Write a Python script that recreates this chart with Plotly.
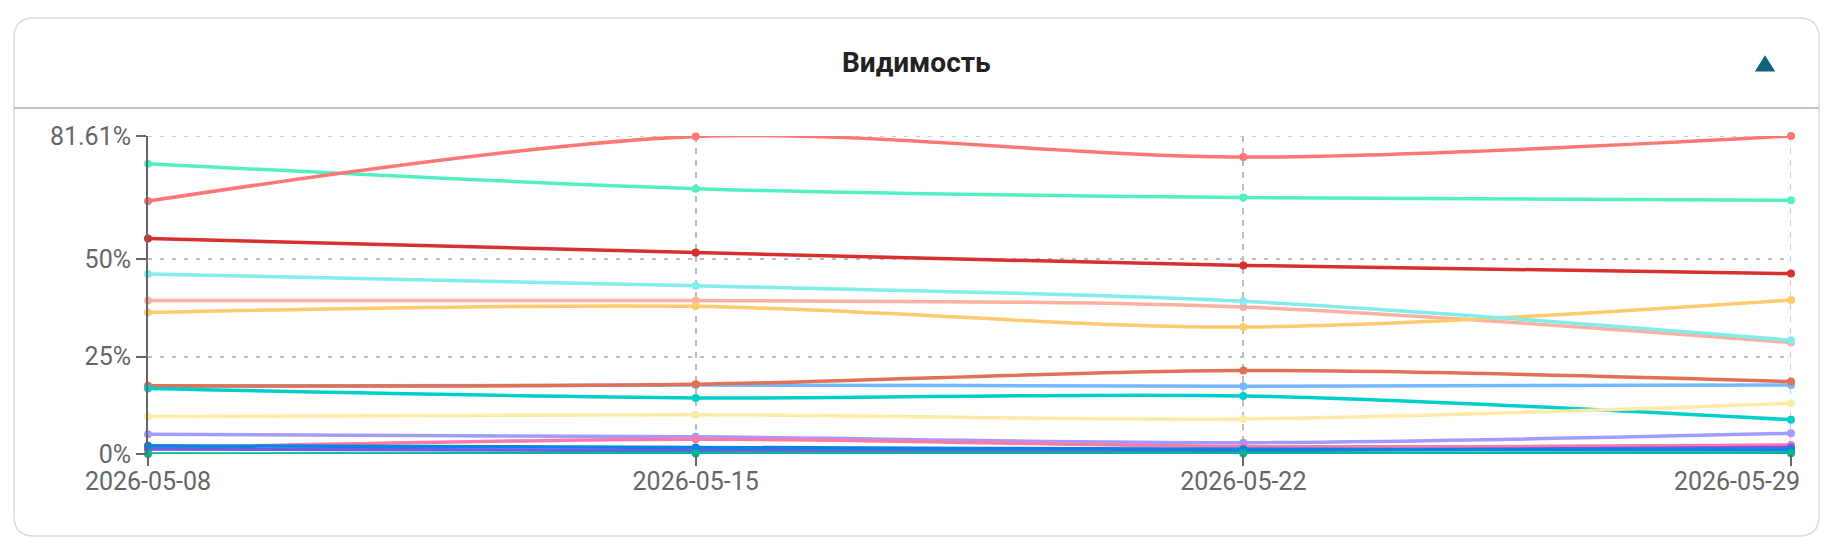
import plotly.graph_objects as go

# ---------------- data ----------------
dates = ["2026-05-08", "2026-05-15", "2026-05-22", "2026-05-29"]
tick_labels = ["2026-05-08", "2026-05-15", "2026-05-22", "2026-05-29"]
y_tickvals = [0, 25, 50, 81.61]
y_ticktext = ["0%", "25%", "50%", "81.61%"]

s_light_blue = [17.4, 17.7, 17.4, 17.7]
s_orange_red = [17.5, 17.9, 21.4, 18.6]
s_teal = [16.8, 14.4, 14.9, 8.8]
s_light_yellow = [9.6, 10.1, 9.0, 13.0]
s_lavender = [5.1, 4.4, 2.9, 5.3]
s_pink = [1.5, 3.8, 1.9, 2.3]
s_purple = [1.3, 0.85, 0.85, 1.7]
s_blue = [2.1, 1.7, 1.2, 1.0]
s_green_dark = [0.0, 0.1, 0.1, 0.2]
s_peach = [39.4, 39.4, 37.7, 28.6]
s_yellow = [36.3, 37.9, 32.6, 39.5]
s_cyan = [46.2, 43.2, 39.2, 29.2]
s_dark_red = [55.3, 51.7, 48.4, 46.3]
s_aqua = [74.5, 68.1, 65.8, 65.1]
s_salmon = [64.9, 81.5, 76.2, 81.61]

series = [
    ("Серия 1", s_light_blue, "#74b9ff"),
    ("Серия 2", s_orange_red, "#e17055"),
    ("Серия 3", s_teal, "#00cec9"),
    ("Серия 4", s_light_yellow, "#ffeaa7"),
    ("Серия 5", s_lavender, "#a29bfe"),
    ("Серия 6", s_pink, "#fd79a8"),
    ("Серия 7", s_purple, "#6c5ce7"),
    ("Серия 8", s_blue, "#0984e3"),
    ("Серия 9", s_peach, "#fab1a0"),
    ("Серия 10", s_yellow, "#fdcb6e"),
    ("Серия 11", s_cyan, "#81ecec"),
    ("Серия 12", s_dark_red, "#d63031"),
    ("Серия 13", s_aqua, "#55efc4"),
    ("Серия 14", s_salmon, "#ff7675"),
    ("Серия 15", s_green_dark, "#00b894"),
]

# ---------------- layout constants (pixels) ----------------
W, H = 1826, 552
L, R, T, B = 148, 35, 136, 98
PW, PH = W - L - R, H - T - B


def xp(px):
    return (px - L) / PW


def yp(py):
    return 1 - (py - T) / PH


FONT = "Roboto, 'Noto Sans', sans-serif"
TICK_COLOR = "#666666"
GRID_COLOR = "#bdbdbd"

fig = go.Figure()
for name, vals, color in series:
    fig.add_trace(go.Scatter(
        x=dates, y=vals, name=name, mode="lines+markers",
        line=dict(color=color, width=3.5, shape="spline", smoothing=0.9),
        marker=dict(color=color, size=8),
        cliponaxis=False, showlegend=False,
    ))

# helper trace for the secondary (label-only) x axis
fig.add_trace(go.Scatter(x=[dates[-1]], y=[None], xaxis="x2", mode="markers",
                         showlegend=False, hoverinfo="skip"))

# card outline with rounded corners
x0, x1, y0, y1, r = 14, 1819, 18, 536, 20
card_path = (
    f"M {xp(x0 + r)},{yp(y0)} L {xp(x1 - r)},{yp(y0)} "
    f"Q {xp(x1)},{yp(y0)} {xp(x1)},{yp(y0 + r)} "
    f"L {xp(x1)},{yp(y1 - r)} Q {xp(x1)},{yp(y1)} {xp(x1 - r)},{yp(y1)} "
    f"L {xp(x0 + r)},{yp(y1)} Q {xp(x0)},{yp(y1)} {xp(x0)},{yp(y1 - r)} "
    f"L {xp(x0)},{yp(y0 + r)} Q {xp(x0)},{yp(y0)} {xp(x0 + r)},{yp(y0)} Z"
)
tx, ty = 1765, 64
tri_path = (
    f"M {xp(tx)},{yp(ty - 6)} L {xp(tx + 7.5)},{yp(ty + 6)} L {xp(tx - 7.5)},{yp(ty + 6)} Z"
)

common_tickfont = dict(size=25, color=TICK_COLOR, family=FONT)

fig.update_layout(
    width=W, height=H,
    margin=dict(l=L, r=R, t=T, b=B, autoexpand=False),
    paper_bgcolor="white", plot_bgcolor="white",
    font=dict(family=FONT, color=TICK_COLOR, size=25),
    hovermode="x",
    xaxis=dict(
        type="date", range=[dates[0], dates[-1]],
        tickvals=dates, ticktext=tick_labels[:-1] + [""],
        ticks="outside", ticklen=11, tickwidth=2, tickcolor=TICK_COLOR,
        ticklabelstandoff=-6,
        showgrid=True, gridcolor=GRID_COLOR, gridwidth=1.5, griddash="6px,6px",
        showline=False, zeroline=False, automargin=False,
        tickfont=common_tickfont,
    ),
    xaxis2=dict(
        type="date", overlaying="x", matches="x", side="bottom",
        range=[dates[0], dates[-1]],
        tickvals=[dates[-1]], ticktext=[tick_labels[-1]],
        ticks="outside", ticklen=11, tickwidth=2, tickcolor="rgba(0,0,0,0)",
        ticklabelstandoff=-6,
        showgrid=False, showline=False, zeroline=False,
        ticklabelshift=-54, automargin=False,
        tickfont=common_tickfont,
    ),
    yaxis=dict(
        range=[0, 81.61], tickvals=y_tickvals, ticktext=y_ticktext,
        ticks="outside", ticklen=10, tickwidth=2, tickcolor=TICK_COLOR,
        showline=True, linecolor=TICK_COLOR, linewidth=2,
        showgrid=True, gridcolor=GRID_COLOR, gridwidth=1.5, griddash="4px,8px",
        zeroline=False, automargin=False,
        tickfont=common_tickfont,
    ),
    shapes=[
        dict(type="path", xref="paper", yref="paper", path=card_path,
             line=dict(color="#dcdcdc", width=1.5), fillcolor="rgba(0,0,0,0)",
             layer="below"),
        dict(type="line", xref="paper", yref="paper",
             x0=xp(x0), x1=xp(x1), y0=yp(108), y1=yp(108),
             line=dict(color="#7d89b6", width=1.2)),
        dict(type="path", xref="paper", yref="paper", path=tri_path,
             fillcolor="#0f6577", line=dict(color="#0f6577", width=3)),
        # grid lines at the range edges (plotly omits them)
        dict(type="line", xref="paper", yref="y", x0=0, x1=1,
             y0=y_tickvals[-1], y1=y_tickvals[-1], layer="below",
             line=dict(color=GRID_COLOR, width=1.5, dash="4px,8px")),
        dict(type="line", xref="x", yref="paper", x0=dates[-1], x1=dates[-1],
             y0=0, y1=1, layer="below",
             line=dict(color=GRID_COLOR, width=1.5, dash="6px,6px")),
    ],
    annotations=[
        dict(text="<b>Видимость</b>", xref="paper", yref="paper",
             x=xp(916.5), y=yp(63), xanchor="center", yanchor="middle",
             showarrow=False, font=dict(size=28, color="#222222", family=FONT)),
    ],
)

fig.write_html("out.html")
